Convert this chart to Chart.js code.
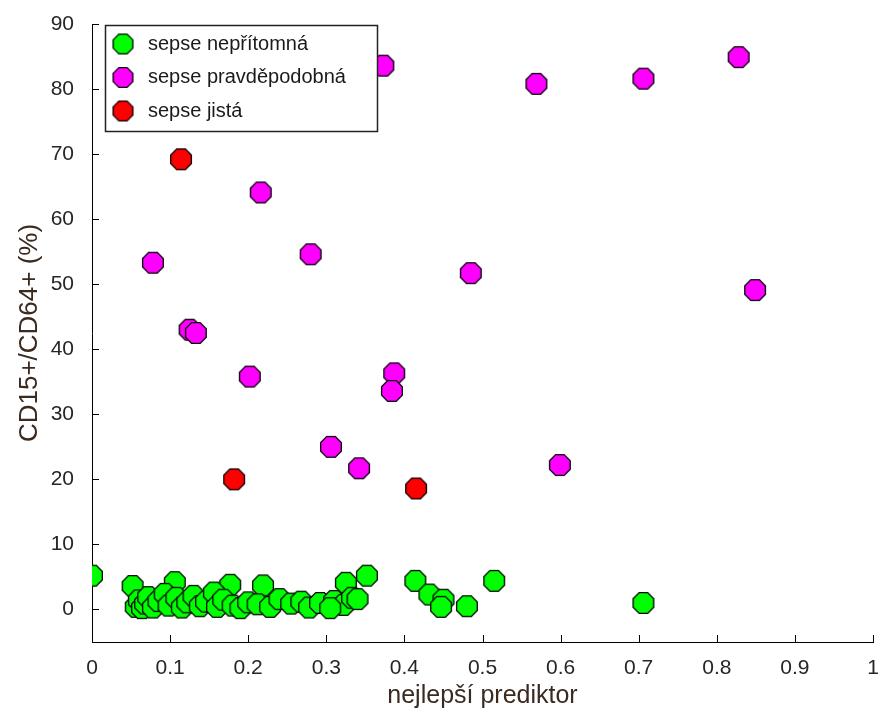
<!DOCTYPE html>
<html><head><meta charset="utf-8">
<script src="https://cdn.jsdelivr.net/npm/chart.js@4/dist/chart.umd.min.js"></script>
<style>html,body{margin:0;padding:0;background:#fff}</style>
</head><body>
<canvas id="c" width="879" height="715"></canvas>
<script>
// ---- data ----
const seriesLabels = ['sepse nepřítomná', 'sepse pravděpodobná', 'sepse jistá'];
const xAxisTitle = 'nejlepší prediktor';
const yAxisTitle = 'CD15+/CD64+ (%)';

const absentX = [0.000,0.052,0.106,0.177,0.219,0.352,0.325,0.414,0.515,0.432,0.450,0.447,0.480,0.706,
  0.056,0.060,0.064,0.068,0.072,0.078,0.085,0.093,0.098,0.108,0.115,0.122,0.130,0.138,0.146,0.156,0.160,
  0.168,0.180,0.190,0.200,0.212,0.228,0.240,0.255,0.268,0.278,0.292,0.310,0.322,0.333,0.340,0.305];
const absentY = [5.2,3.6,4.2,3.8,3.7,5.2,4.1,4.4,4.4,2.3,1.5,0.4,0.5,1.0,
  0.4,1.4,0.2,0.9,1.9,0.3,1.3,2.4,0.6,1.8,0.3,1.1,2.1,0.5,1.2,2.6,0.4,
  1.5,0.6,0.2,1.1,0.8,0.4,1.6,0.9,1.2,0.3,1.0,1.3,0.7,1.8,1.6,0.2];

const probableX = [0.373,0.828,0.569,0.706,0.216,0.078,0.280,0.485,0.849,0.125,0.133,0.202,0.387,0.384,0.306,0.342,0.599];
const probableY = [83.6,84.9,80.8,81.6,64.1,53.3,54.6,51.7,49.1,43.0,42.5,35.8,36.3,33.6,25.0,21.7,22.2];

const certainX = [0.114,0.182,0.415];
const certainY = [69.2,20.0,18.6];

const xTickMin = 0, xTickMax = 1, xTickStep = 0.1;
const yTickMin = -5, yTickMax = 90, yTickStep = 10;

// ---- helpers ----
function octagon(fill, d) {
  const c = document.createElement('canvas');
  c.width = d; c.height = d;
  const g = c.getContext('2d');
  const r = d / 2 - 0.8, cx = d / 2, cy = d / 2;
  g.beginPath();
  for (let k = 0; k < 8; k++) {
    const a = Math.PI / 8 + k * Math.PI / 4;
    const px = cx + r * Math.cos(a), py = cy + r * Math.sin(a);
    k ? g.lineTo(px, py) : g.moveTo(px, py);
  }
  g.closePath();
  g.fillStyle = fill; g.fill();
  g.strokeStyle = '#000'; g.lineWidth = 1.3; g.stroke();
  return c;
}
function pts(xs, ys) { return xs.map((x, i) => ({x: x, y: ys[i]})); }

const colors = ['#00ff00', '#ff00ff', '#ff0000'];
const markers = colors.map(c => octagon(c, 24));
const legendMarkers = colors.map(c => octagon(c, 23));

const innerTicks = {
  id: 'innerTicks',
  beforeDatasetsDraw(chart) {
    const {x, y} = chart.scales, ctx = chart.ctx, ca = chart.chartArea;
    ctx.save();
    ctx.strokeStyle = '#000'; ctx.lineWidth = 1;
    ctx.beginPath();
    x.ticks.forEach(t => { const px = Math.round(x.getPixelForValue(t.value)) + 0.5; ctx.moveTo(px, ca.bottom); ctx.lineTo(px, ca.bottom - 7); });
    y.ticks.forEach(t => { const py = Math.round(y.getPixelForValue(t.value)) + 0.5; ctx.moveTo(ca.left, py); ctx.lineTo(ca.left + 7, py); });
    ctx.stroke();
    ctx.restore();
  }
};

const legendBox = {
  id: 'legendBox',
  afterDatasetsDraw(chart) {
    const ctx = chart.ctx, ca = chart.chartArea;
    const x0 = ca.left + 13, y0 = ca.top + 1, w = 272, h = 106;
    ctx.save();
    ctx.fillStyle = '#fff'; ctx.fillRect(x0, y0, w, h);
    ctx.strokeStyle = '#222'; ctx.lineWidth = 1.5; ctx.strokeRect(x0 + 0.5, y0 + 0.5, w, h);
    ctx.font = '20px "Liberation Sans", Arial, sans-serif';
    ctx.textBaseline = 'middle'; ctx.textAlign = 'left';
    chart.data.datasets.forEach((ds, i) => {
      const cy = y0 + 19 + i * 33.5;
      const m = legendMarkers[i];
      ctx.drawImage(m, x0 + 18 - m.width / 2, cy - m.height / 2);
      ctx.fillStyle = '#1a1a1a';
      ctx.fillText(ds.label, x0 + 43, cy);
    });
    ctx.restore();
  }
};

const tickFont = {family: '"Liberation Sans", Arial, sans-serif', size: 21};
const titleColor = '#3a2a20';

new Chart(document.getElementById('c'), {
  type: 'scatter',
  data: {
    datasets: [
      {label: seriesLabels[0], data: pts(absentX, absentY), pointStyle: markers[0], backgroundColor: colors[0], borderColor: '#000'},
      {label: seriesLabels[1], data: pts(probableX, probableY), pointStyle: markers[1], backgroundColor: colors[1], borderColor: '#000'},
      {label: seriesLabels[2], data: pts(certainX, certainY), pointStyle: markers[2], backgroundColor: colors[2], borderColor: '#000'}
    ]
  },
  options: {
    responsive: false,
    animation: false,
    events: [],
    layout: {padding: {top: 24, right: 6, left: 0, bottom: 0}},
    plugins: {legend: {display: false}, tooltip: {enabled: false}},
    scales: {
      x: {
        type: 'linear', min: xTickMin, max: xTickMax,
        grid: {display: false},
        border: {display: true, color: '#000', width: 1},
        ticks: {stepSize: xTickStep, color: '#262626', font: tickFont, padding: 6, maxRotation: 0, autoSkip: false,
          callback: v => String(Number(v.toFixed(1)))},
        title: {display: true, text: xAxisTitle, color: titleColor, font: {family: '"Liberation Sans", Arial, sans-serif', size: 25}, padding: {top: 0, bottom: 4}},
        afterFit(s) { s.height = 73; s.paddingLeft = 0; s.paddingRight = 0; }
      },
      y: {
        type: 'linear', min: yTickMin, max: yTickMax,
        grid: {display: false},
        border: {display: true, color: '#000', width: 1},
        ticks: {stepSize: yTickStep, includeBounds: false, color: '#262626', font: tickFont, padding: 10},
        title: {display: true, text: yAxisTitle, color: titleColor, font: {family: '"Liberation Sans", Arial, sans-serif', size: 26}, padding: {top: 14, bottom: 0}},
        afterFit(s) { s.width = 92; s.paddingTop = 0; s.paddingBottom = 0; }
      }
    }
  },
  plugins: [innerTicks, legendBox]
});
</script>
</body></html>
